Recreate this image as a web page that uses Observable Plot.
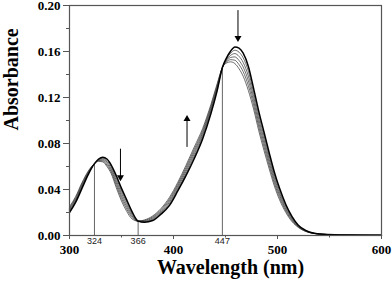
<!DOCTYPE html>
<html>
<head>
<meta charset="utf-8">
<script src="https://cdn.jsdelivr.net/npm/d3@7"></script>
<script src="https://cdn.jsdelivr.net/npm/@observablehq/plot@0.6"></script>
<style>
  html, body { margin: 0; padding: 0; background: #fff; }
  #chart svg { display: block; }
</style>
</head>
<body>
<div id="chart"></div>
<script>
// Wavelength grid (nm)
const wavelength = [300,306,312,318,324,328,332,336,340,345,350,355,360,366,372,380,388,396,404,412,420,428,436,442,447,451,455,459,463,467,472,477,482,487,492,497,502,508,514,520,527,535,545,560,600];

// Spectra (absorbance), first = black initial spectrum
const spec0 = [0.020,0.029,0.041,0.053,0.0625,0.0665,0.068,0.0665,0.0615,0.052,0.041,0.031,0.021,0.0125,0.0115,0.013,0.0185,0.026,0.0385,0.052,0.067,0.084,0.106,0.126,0.146,0.1545,0.1605,0.164,0.163,0.1585,0.147,0.128,0.108,0.090,0.072,0.055,0.041,0.027,0.0165,0.009,0.0045,0.002,0.001,0.0005,0.0002];
const spec1 = [0.021,0.030,0.042,0.0536,0.0625,0.0661,0.0672,0.0652,0.0600,0.0499,0.0388,0.029,0.0197,0.0125,0.0119,0.0138,0.0195,0.0274,0.040,0.0538,0.069,0.0858,0.1076,0.1272,0.146,0.1536,0.1586,0.1611,0.1594,0.1545,0.1428,0.1244,0.1046,0.0868,0.0692,0.0526,0.039,0.0256,0.0156,0.0086,0.0043,0.002,0.001,0.0005,0.0002];
const spec2 = [0.022,0.031,0.043,0.0542,0.0625,0.0657,0.0664,0.0639,0.0585,0.0478,0.0366,0.027,0.0184,0.0125,0.0123,0.0146,0.0205,0.0288,0.0415,0.0556,0.071,0.0876,0.1092,0.1284,0.146,0.1527,0.1567,0.1582,0.1558,0.1505,0.1386,0.1208,0.1012,0.0836,0.0664,0.0502,0.037,0.0242,0.0147,0.0082,0.0041,0.0019,0.001,0.0005,0.0002];
const spec3 = [0.023,0.032,0.044,0.0548,0.0625,0.0653,0.0656,0.0626,0.0570,0.0457,0.0344,0.025,0.0171,0.0125,0.0127,0.0154,0.0215,0.0302,0.043,0.0574,0.073,0.0894,0.1108,0.1296,0.146,0.1518,0.1548,0.1553,0.1522,0.1465,0.1344,0.1172,0.0978,0.0804,0.0636,0.0478,0.035,0.0228,0.0138,0.0078,0.0039,0.0019,0.0009,0.0005,0.0002];
const spec4 = [0.024,0.033,0.045,0.0554,0.0625,0.0649,0.0648,0.0613,0.0555,0.0436,0.0322,0.023,0.0158,0.0125,0.0131,0.0162,0.0225,0.0316,0.0445,0.0592,0.075,0.0912,0.1124,0.1308,0.146,0.1509,0.1529,0.1524,0.1486,0.1425,0.1302,0.1136,0.0944,0.0772,0.0608,0.0454,0.033,0.0214,0.0129,0.0074,0.0037,0.0018,0.0009,0.0005,0.0002];
const spec5 = [0.025,0.034,0.046,0.056,0.0625,0.0645,0.064,0.060,0.054,0.0415,0.030,0.021,0.0145,0.0125,0.0135,0.017,0.0235,0.033,0.046,0.061,0.077,0.093,0.114,0.132,0.146,0.150,0.151,0.1495,0.145,0.1385,0.126,0.110,0.091,0.074,0.058,0.043,0.031,0.020,0.012,0.007,0.0035,0.0018,0.0009,0.0005,0.0002];

// Isosbestic points
const isoWl = [324, 366, 447];
const isoAbs = [0.0625, 0.0125, 0.147];
const isoLabels = ["324", "366", "447"];

// Arrows (wavelength, from, to)
const arrowWl = [349, 413, 462];
const arrowFrom = [0.0755, 0.077, 0.196];
const arrowTo = [0.049, 0.103, 0.170];

// Ticks
const xMajor = [300, 400, 500, 600];
const xMinor = [350, 450, 550];
const yMajor = [0, 0.04, 0.08, 0.12, 0.16, 0.20];
const yMinor = [0.02, 0.06, 0.10, 0.14, 0.18];

const spectra = [spec0, spec1, spec2, spec3, spec4, spec5];
const rows = spectra.flatMap((s, k) => s.map((a, i) => ({wl: wavelength[i], a, k})));
const grayRows = rows.filter(d => d.k > 0);
const blackRows = rows.filter(d => d.k === 0);
const iso = isoWl.map((w, i) => ({wl: w, a: isoAbs[i], label: isoLabels[i]}));
const arrows = arrowWl.map((w, i) => ({wl: w, a1: arrowFrom[i], a2: arrowTo[i]}));
const downArrows = arrows.filter(d => d.a2 < d.a1);
const upArrows = arrows.filter(d => d.a2 > d.a1);

const serif = "'Liberation Serif', 'Times New Roman', serif";
const sans = "'Liberation Sans', Arial, sans-serif";

const plot = Plot.plot({
  width: 392,
  height: 281,
  marginLeft: 69,
  marginRight: 11,
  marginTop: 5,
  marginBottom: 46,
  style: {fontFamily: serif, fontWeight: "bold", fontSize: "13px", background: "#fff", color: "#000", overflow: "visible"},
  x: {domain: [300, 600]},
  y: {domain: [0, 0.20]},
  marks: [
    // isosbestic guide lines
    Plot.ruleX(iso, {x: "wl", y1: 0, y2: "a", stroke: "#555", strokeWidth: 0.9}),
    // spectra
    Plot.line(grayRows, {x: "wl", y: "a", z: "k", stroke: "#3c3c3c", strokeWidth: 0.75, curve: "monotone-x"}),
    Plot.line(blackRows, {x: "wl", y: "a", stroke: "#000", strokeWidth: 1.5, curve: "monotone-x"}),
    // arrows: shafts + filled heads
    Plot.link(arrows, {x1: "wl", x2: "wl", y1: "a1", y2: "a2", stroke: "#000", strokeWidth: 1}),
    Plot.dot(downArrows, {x: "wl", y: "a2", symbol: "triangle", rotate: 180, r: 2.6, dy: -2, fill: "#000", stroke: "none"}),
    Plot.dot(upArrows, {x: "wl", y: "a2", symbol: "triangle", r: 2.6, dy: 2, fill: "#000", stroke: "none"}),
    // frame
    Plot.frame({stroke: "#555", strokeWidth: 1.2}),
    // axes
    Plot.axisX(xMajor, {tickSize: 4, tickPadding: 5, tickFormat: d => String(d), fontFamily: serif, fontWeight: "bold", fontSize: 13, label: null, stroke: "#555"}),
    Plot.axisX(xMinor, {tickSize: 2.5, tickFormat: () => "", label: null, stroke: "#555"}),
    Plot.axisY(yMajor, {tickSize: 6, tickPadding: 3, tickFormat: d3.format(".2f"), fontFamily: serif, fontWeight: "bold", fontSize: 13, label: null, stroke: "#555"}),
    Plot.axisY(yMinor, {tickSize: 3, tickFormat: () => "", label: null, stroke: "#555"}),
    // isosbestic labels
    Plot.text(iso, {x: "wl", y: 0, text: "label", dy: 8, lineAnchor: "bottom", fontFamily: sans, fontWeight: "normal", fontSize: 9, fill: "#222"}),
    // axis titles
    Plot.text(["Wavelength (nm)"], {frameAnchor: "bottom", dx: 5, dy: 38, lineAnchor: "bottom", fontFamily: serif, fontWeight: "bold", fontSize: 20}),
    Plot.text(["Absorbance"], {frameAnchor: "left", rotate: -90, dx: -52, dy: 10, lineAnchor: "bottom", fontFamily: serif, fontWeight: "bold", fontSize: 20})
  ]
});
document.getElementById("chart").appendChild(plot);
</script>
</body>
</html>
